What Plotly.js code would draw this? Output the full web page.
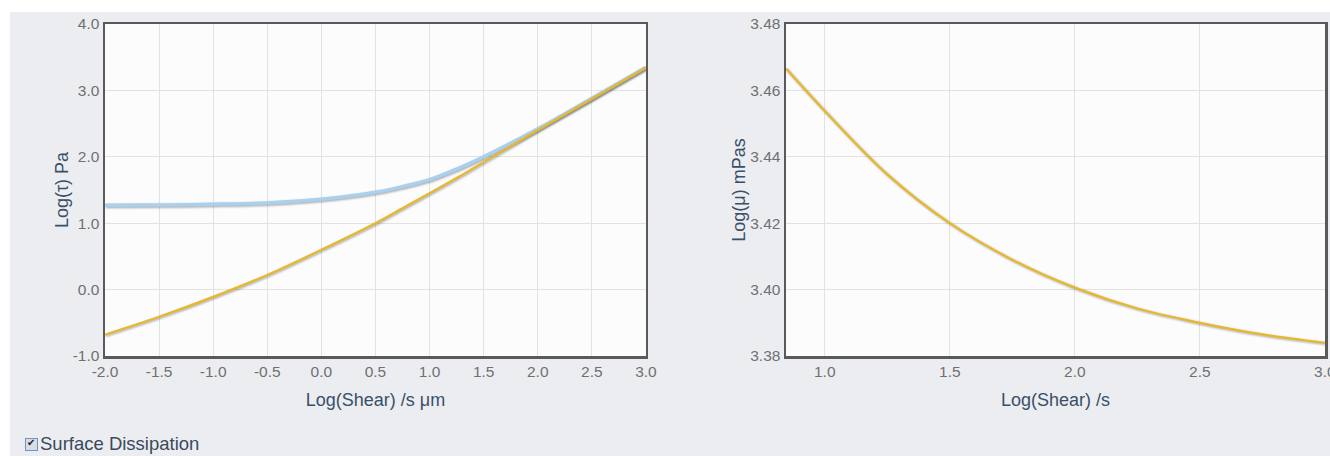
<!DOCTYPE html>
<html>
<head>
<meta charset="utf-8">
<script src="https://cdn.plot.ly/plotly-3.0.1.min.js"></script>
<style>
  html, body { margin: 0; padding: 0; background: #ffffff; width: 1330px; height: 456px; overflow: hidden; }
  #wrap { position: absolute; left: 10px; top: 12px; width: 1320px; height: 444px; background: #ECEDF1; }
  #chart { position: absolute; left: 0; top: 0; width: 1320px; height: 420px; }
  #chart svg.main-svg { overflow: visible; }
  #opt { position: absolute; left: 15px; top: 421px; font-family: "Liberation Sans", Arial, sans-serif; font-size: 18.5px; color: #3a4a5c; display: flex; align-items: center; }
  #box { display: inline-block; box-sizing: border-box; width: 13px; height: 13px; border: 1.5px solid #6f95c8; background: #d9dde3; margin-right: 2px; position: relative; }
  #box::after { content: "\2714"; position: absolute; left: 1px; top: -2px; font-size: 10px; color: #222; font-family: "DejaVu Sans", sans-serif; }
  .js-line { filter: drop-shadow(1px 1.5px 1px rgba(0,0,0,0.35)); }
</style>
</head>
<body>
<div id="wrap">
  <div id="chart"></div>
  <label id="opt"><span id="box"></span>Surface Dissipation</label>
</div>
<script>
// Left chart: Log(tau) vs Log(Shear)
const shearLeft = [-2.0, -1.5, -1.0, -0.5, 0.0, 0.5, 0.75, 1.0, 1.25, 1.5, 2.0, 2.5, 3.0];
const tauBase   = [-0.68, -0.41, -0.11, 0.22, 0.60, 1.00, 1.224, 1.45, 1.68, 1.92, 2.40, 2.87, 3.34];
const tauSurface= [1.27, 1.275, 1.285, 1.305, 1.36, 1.465, 1.55, 1.655, 1.815, 2.00, 2.42, 2.88, 3.35];

// Right chart: Log(mu) vs Log(Shear)
const shearRight = [0.845, 1.0, 1.25, 1.5, 1.75, 2.0, 2.25, 2.5, 2.75, 3.0];
const muValues   = [3.4666, 3.4538, 3.4347, 3.4200, 3.4090, 3.4006, 3.3943, 3.3900, 3.3865, 3.3840];

// Tick labels
const leftTickVals = [-2.0, -1.5, -1.0, -0.5, 0.0, 0.5, 1.0, 1.5, 2.0, 2.5, 3.0];
const leftTicksX = ["-2.0","-1.5","-1.0","-0.5","0.0","0.5","1.0","1.5","2.0","2.5","3.0"];
const leftTickValsY = [-1, 0, 1, 2, 3, 4];
const leftTicksY = ["-1.0","0.0","1.0","2.0","3.0","4.0"];
const rightTickValsX = [1.0, 1.5, 2.0, 2.5, 3.0];
const rightTicksX = ["1.0","1.5","2.0","2.5","3.0"];
const rightTickValsY = [3.38, 3.40, 3.42, 3.44, 3.46, 3.48];
const rightTicksY = ["3.38","3.40","3.42","3.44","3.46","3.48"];

const yellow = '#E8B828';
const blue = '#A9D1EE';

const traces = [
  { x: shearLeft, y: tauSurface, xaxis: 'x', yaxis: 'y', mode: 'lines', line: { color: blue, width: 3.5, shape: 'spline', smoothing: 1 }, hoverinfo: 'skip' },
  { x: shearLeft, y: tauBase, xaxis: 'x', yaxis: 'y', mode: 'lines', line: { color: yellow, width: 2.2, shape: 'spline' }, hoverinfo: 'skip' },
  { x: shearRight, y: muValues, xaxis: 'x2', yaxis: 'y2', mode: 'lines', line: { color: yellow, width: 2.2, shape: 'spline' }, hoverinfo: 'skip' }
];

const tickFont = { family: '"Liberation Sans", Arial, sans-serif', size: 15.5, color: '#707070' };
const titleFont = { family: '"Liberation Sans", Arial, sans-serif', size: 18, color: '#3a5068' };
const common = {
  showgrid: true, gridcolor: '#e2e2e2', gridwidth: 1,
  zeroline: false, showline: true, mirror: true, linecolor: '#5a5a5a', linewidth: 2.5,
  ticks: '', tickfont: tickFont, fixedrange: true, tickmode: 'array', ticklabeloverflow: 'allow'
};

const layout = {
  width: 1320, height: 420,
  margin: { l: 95, r: 5, t: 12, b: 76 },
  paper_bgcolor: '#ECEDF1', plot_bgcolor: '#FCFCFC',
  showlegend: false,
  xaxis: Object.assign({}, common, {
    domain: [0, 0.4434], range: [-2, 3], tickvals: leftTickVals, ticktext: leftTicksX,
    title: { text: 'Log(Shear) /s μm', font: titleFont, standoff: 15 }
  }),
  yaxis: Object.assign({}, common, {
    range: [-1, 4], tickvals: leftTickValsY, ticktext: leftTicksY,
    title: { text: 'Log(τ) Pa', font: titleFont, standoff: 0 }
  }),
  xaxis2: Object.assign({}, common, {
    domain: [0.5582, 1], anchor: 'y2', range: [0.845, 3.0005], tickvals: rightTickValsX, ticktext: rightTicksX,
    title: { text: 'Log(Shear) /s', font: titleFont, standoff: 15 }
  }),
  yaxis2: Object.assign({}, common, {
    anchor: 'x2', range: [3.38, 3.48], tickvals: rightTickValsY, ticktext: rightTicksY,
    title: { text: 'Log(μ) mPas', font: titleFont, standoff: 0 }
  })
};

Plotly.newPlot('chart', traces, layout, { displayModeBar: false, staticPlot: true });
</script>
</body>
</html>
